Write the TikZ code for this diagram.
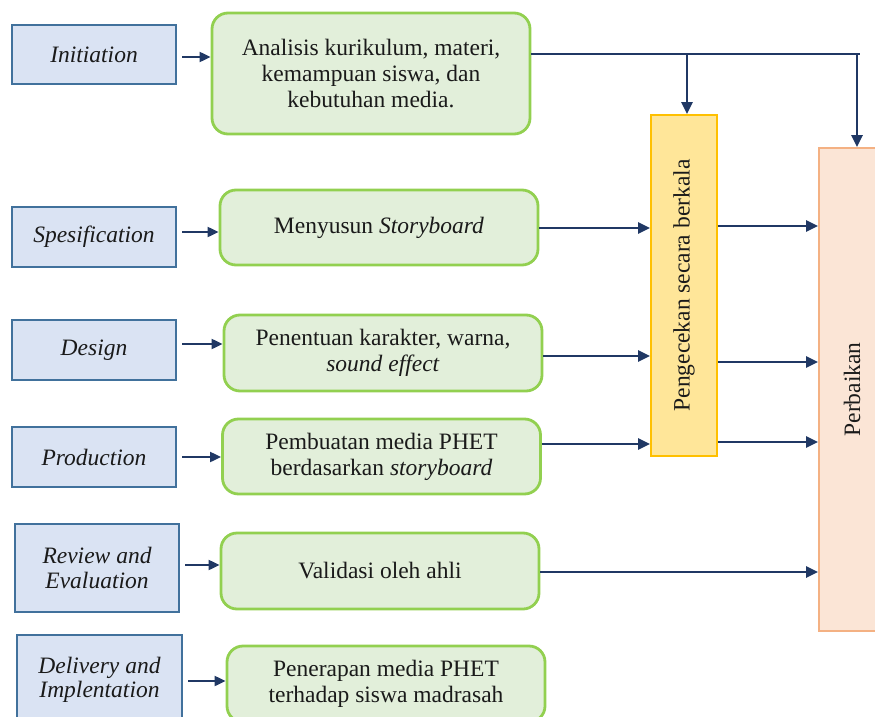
\documentclass[tikz,border=0pt]{standalone}
\usepackage{fontspec}
\setmainfont{Liberation Serif}
\usetikzlibrary{arrows.meta,calc}
\definecolor{bfill}{HTML}{DAE3F3}
\definecolor{bdraw}{HTML}{41719C}
\definecolor{gfill}{HTML}{E2EFDA}
\definecolor{gdraw}{HTML}{92D050}
\definecolor{yfill}{HTML}{FFE699}
\definecolor{ydraw}{HTML}{FFC000}
\definecolor{pfill}{HTML}{FBE5D6}
\definecolor{pdraw}{HTML}{F4B183}
\definecolor{navy}{HTML}{203864}
\definecolor{ink}{HTML}{1A1A1A}
\begin{document}
\begin{tikzpicture}[x=1pt,y=-1pt,
  font=\fontsize{23.5}{26}\selectfont, text=ink,
  phase/.style={draw=bdraw, fill=bfill, line width=2.8pt, minimum width=164pt,
    inner sep=0pt, align=center, font=\fontsize{23.5}{24.5}\selectfont\itshape},
  act/.style={draw=gdraw, fill=gfill, line width=2.8pt, rounded corners=16pt,
    minimum width=318pt, inner sep=0pt, align=center},
  arr/.style={draw=navy, line width=2pt, -{Triangle[length=11pt,width=10pt]}},
  bigarr/.style={draw=navy, line width=2.8pt, -{Triangle[length=12pt,width=11pt]}},
  ln/.style={draw=navy, line width=2.8pt}]
\useasboundingbox (0,0) rectangle (875,717);

% left phase boxes
\node[phase, minimum height=59pt] (b1) at (94,54.5) {Initiation};
\node[phase, minimum height=60pt] (b2) at (94,237) {Spesification};
\node[phase, minimum height=60pt] (b3) at (94,350) {Design};
\node[phase, minimum height=60pt] (b4) at (94,457) {Production};
\node[phase, minimum height=88pt] (b5) at (97,568) {Review and\\Evaluation};
\node[phase, minimum height=90pt, minimum width=165pt] (b6) at (99.5,680) {Delivery and\\Implentation};

% activity boxes
\node[act, minimum height=121pt] (g1) at (371,73.5) {Analisis kurikulum, materi,\\kemampuan siswa, dan\\kebutuhan media.};
\node[act, minimum height=75pt] (g2) at (379,227.5) {Menyusun \textit{Storyboard}};
\node[act, minimum height=76pt] (g3) at (383,353) {Penentuan karakter, warna,\\\textit{sound effect}};
\node[act, minimum height=75pt] (g4) at (381.5,456.5) {Pembuatan media PHET\\berdasarkan \textit{storyboard}};
\node[act, minimum height=76pt] (g5) at (380,571) {Validasi oleh ahli};
\node[act, minimum height=76pt] (g6) at (386,684) {Penerapan media PHET\\terhadap siswa madrasah};

% check and repair boxes
\node[draw=ydraw, fill=yfill, line width=1.8pt, minimum width=66pt, minimum height=341pt, inner sep=0pt] (chk) at (684,285.5) {};
\node[rotate=90, inner sep=0pt] (chktxt) at (chk.center) {Pengecekan secara berkala};
\node[draw=pdraw, fill=pfill, line width=1.8pt, minimum width=66pt, minimum height=483pt, inner sep=0pt] (per) at (852,389.5) {};
\node[rotate=90, inner sep=0pt] (pertxt) at (per.center) {Perbaikan};

% row levels
\coordinate (r1) at (0,57);
\coordinate (r2) at (0,232);
\coordinate (r3) at (0,344);
\coordinate (r4) at (0,457);
\coordinate (r5) at (0,565);
\coordinate (r6) at (0,681);
\coordinate (m2) at (0,228);
\coordinate (m3) at (0,356);
\coordinate (m4) at (0,444);
\coordinate (m5) at (0,572);
\coordinate (n2) at (0,226);
\coordinate (n3) at (0,362);
\coordinate (n4) at (0,442);

% phase -> activity
\foreach \i in {1,...,6}
  \draw[arr, shorten <=5pt] (b\i.east |- r\i) -- (g\i.west |- r\i);

% top distribution line
\coordinate (ja) at (687,54);
\coordinate (jb) at (857,54);
\coordinate (tR) at (860,54);
\draw[ln] (g1.east |- tR) -- (tR);
\draw[bigarr] (ja) -- (ja |- chk.north);
\draw[bigarr] (jb) -- (jb |- per.north);

% activity -> check
\draw[bigarr] (g2.east |- m2) -- (chk.west |- m2);
\draw[bigarr] (g3.east |- m3) -- (chk.west |- m3);
\draw[bigarr] (g4.east |- m4) -- (chk.west |- m4);

% check -> repair
\draw[bigarr] (chk.east |- n2) -- (per.west |- n2);
\draw[bigarr] (chk.east |- n3) -- (per.west |- n3);
\draw[bigarr] (chk.east |- n4) -- (per.west |- n4);

% validation -> repair
\draw[bigarr] (g5.east |- m5) -- (per.west |- m5);
\end{tikzpicture}
\end{document}
